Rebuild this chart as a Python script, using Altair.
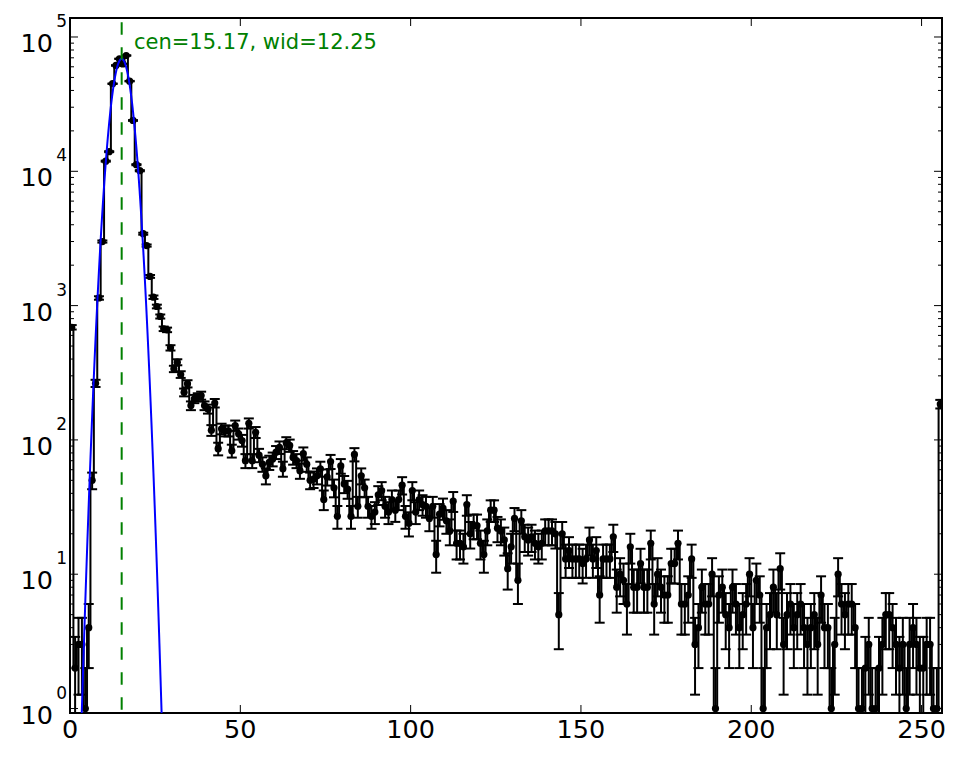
import altair as alt
import pandas as pd

# ---------------- data ----------------
# histogram counts for bins 0..255 (points drawn at bin centres)
COUNTS = [
    690, 2, 3, 3, 1, 4, 50, 264, 1140, 3000, 11900, 14000, 44900, 61400, 68800, 63000,
    72800, 46900, 23900, 11200, 10100, 3430, 2800, 1650, 1155, 985, 830, 672, 660, 485, 338, 379,
    307, 226, 262, 180, 202, 208, 214, 180, 170, 118, 188, 86, 121, 117, 117, 83,
    128, 111, 99, 70, 133, 70, 114, 77, 66, 54, 68, 72, 81, 88, 61, 95,
    91, 74, 70, 59, 79, 66, 50, 51, 54, 61, 36, 53, 69, 44, 27, 64,
    47, 43, 27, 78, 32, 54, 44, 32, 27, 29, 39, 42, 32, 29, 36, 30,
    36, 46, 27, 24, 42, 29, 36, 33, 32, 26, 32, 14, 28, 31, 25, 21,
    35, 17, 17, 16, 33, 20, 23, 23, 17, 14, 21, 30, 30, 22, 21, 18,
    11, 16, 26, 9, 25, 19, 18, 19, 17, 16, 17, 21, 21, 21, 20, 5,
    20, 13, 15, 13, 13, 13, 12, 13, 18, 13, 15, 7, 13, 13, 13, 19,
    8, 10, 9, 6, 16, 8, 8, 12, 8, 8, 17, 6, 10, 8, 7, 7,
    12, 12, 17, 6, 6, 7, 13, 3, 4, 8, 6, 6, 10, 1, 7, 8,
    5, 4, 8, 6, 4, 5, 6, 10, 4, 9, 7, 1, 4, 5, 8, 5,
    11, 3, 5, 6, 4, 5, 6, 4, 3, 4, 5, 3, 7, 4, 4, 1,
    3, 10, 6, 5, 6, 6, 4, 1, 1, 2, 3, 1, 1, 2, 3, 5,
    5, 4, 3, 2, 3, 1, 3, 4, 3, 2, 2, 3, 3, 1, 1, 185,
]
BINS = list(range(len(COUNTS)))

# gaussian fit shown in the figure
FIT_AMP = 68800
FIT_CEN = 15.17
FIT_WID = 12.25
FIT_LABEL = "cen=15.17, wid=12.25"

X_TICKS = [0, 50, 100, 150, 200, 250]
Y_EXPONENTS = [0, 1, 2, 3, 4, 5]
MINOR_MULTS = [2, 3, 4, 5, 6, 7, 8, 9]

X_DOMAIN = [0, 256]
Y_DOMAIN = [0.926, 138500]

# ---------------- layout / style ----------------
W, H = 872, 695
FONT = "DejaVu Sans"
GREEN = "#008000"
BLUE = "#0000ff"

xs = alt.Scale(domain=X_DOMAIN, nice=False, zero=False)
ys = alt.Scale(type="log", domain=Y_DOMAIN, nice=False)

hist = pd.DataFrame({"bin": BINS, "count": COUNTS})
base = alt.Chart(hist).transform_calculate(
    xc="datum.bin + 0.5",
    err="sqrt(datum.count)",
).transform_calculate(
    lo="max(datum.count - datum.err, 0.01)",
    hi="datum.count + datum.err",
)

def X(field):
    return alt.X(field, scale=xs, axis=None)

def Y(field):
    return alt.Y(field, scale=ys, axis=None)

errbars = base.mark_rule(color="black", strokeWidth=2, clip=True).encode(
    x=X("xc:Q"), y=Y("lo:Q"), y2="hi:Q"
)
cap_lo = base.mark_tick(orient="horizontal", size=10, thickness=2, color="black",
                        clip=True, opacity=1).encode(x=X("xc:Q"), y=Y("lo:Q"))
cap_hi = base.mark_tick(orient="horizontal", size=10, thickness=2, color="black",
                        clip=True, opacity=1).encode(x=X("xc:Q"), y=Y("hi:Q"))
steps = base.mark_line(interpolate="step", color="black", strokeWidth=2, clip=True).encode(
    x=X("xc:Q"), y=Y("count:Q")
)
dots = base.mark_circle(size=52, color="black", opacity=1, clip=True).encode(
    x=X("xc:Q"), y=Y("count:Q")
)

fit = alt.Chart(alt.sequence(2.0, 29.0, 0.05, as_="fx")).transform_calculate(
    fy=f"{FIT_AMP} * exp(-pow(datum.fx - {FIT_CEN}, 2) / {FIT_WID})"
).mark_line(color=BLUE, strokeWidth=2, clip=True).encode(x=X("fx:Q"), y=Y("fy:Q"))

cen_df = pd.DataFrame({"cen": [FIT_CEN]})
cen_line = alt.Chart(cen_df).mark_rule(
    color=GREEN, strokeWidth=2, strokeDash=[12.5, 12.5], strokeDashOffset=20.8
).encode(x=X("cen:Q"), y=alt.value(0), y2=alt.value(H))

label_df = pd.DataFrame({"label": [FIT_LABEL]})
fit_text = alt.Chart(label_df).mark_text(
    align="left", baseline="alphabetic", fontSize=21, font=FONT, color=GREEN,
    fontWeight="normal",
).encode(text="label:N", x=alt.value(64), y=alt.value(30.8))

# ---- inward ticks on all four sides ----
xt_df = pd.DataFrame({"t": X_TICKS, "lab": [str(t) for t in X_TICKS]})
ymaj_df = pd.DataFrame({"v": [10 ** e for e in Y_EXPONENTS]})
ymin_df = pd.DataFrame({"v": [m * 10 ** e for e in Y_EXPONENTS[:-1] for m in MINOR_MULTS]})

def xticks(y0, y1):
    return alt.Chart(xt_df).mark_rule(color="black", strokeWidth=1).encode(
        x=X("t:Q"), y=alt.value(y0), y2=alt.value(y1))

def yticks(df, x0, x1):
    return alt.Chart(df).mark_rule(color="black", strokeWidth=1).encode(
        y=Y("v:Q"), x=alt.value(x0), x2=alt.value(x1))

tick_layers = [
    xticks(H, H - 8), xticks(0, 8),
    yticks(ymaj_df, 0, 8), yticks(ymaj_df, W, W - 8),
    yticks(ymin_df, 0, 4), yticks(ymin_df, W, W - 4),
]

# ---- x tick labels ----
xlab = alt.Chart(xt_df).mark_text(
    align="center", baseline="alphabetic", fontSize=25.5, font=FONT, color="black",
    fontWeight="normal",
).encode(x=X("t:Q"), y=alt.value(H + 25), text="lab:N")

# ---- y tick labels in the old matplotlib "10^n" style ----
ylab_df = pd.DataFrame({
    "v": [10 ** e for e in Y_EXPONENTS],
    "base": ["10"] * len(Y_EXPONENTS),
    "exp": [str(e) for e in Y_EXPONENTS],
})
ylab_base = alt.Chart(ylab_df).mark_text(
    align="right", baseline="alphabetic", dy=15, fontSize=25.5, font=FONT, color="black",
    fontWeight="normal",
).encode(y=Y("v:Q"), x=alt.value(-17), text="base:N")
ylab_exp = alt.Chart(ylab_df).mark_text(
    align="right", baseline="alphabetic", dy=-10, fontSize=17, font=FONT, color="black",
    fontWeight="normal",
).encode(y=Y("v:Q"), x=alt.value(-3), text="exp:N")

chart = alt.layer(
    errbars, cap_lo, cap_hi, steps, dots, fit, cen_line, fit_text,
    *tick_layers, xlab, ylab_base, ylab_exp,
).properties(
    width=W, height=H,
    padding={"left": 62, "top": 10, "right": 15, "bottom": 38},
    autosize=alt.AutoSizeParams(type="none"),
    background="white",
).configure_view(stroke="black", strokeWidth=2)

chart.save("out.html", embed_options={"renderer": "svg", "actions": False})
